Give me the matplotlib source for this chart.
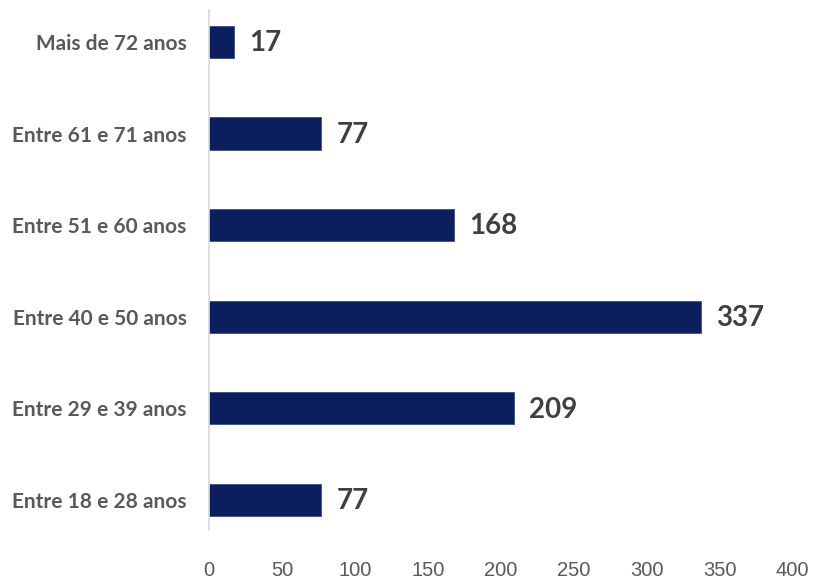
import matplotlib
matplotlib.use("Agg")
import matplotlib.pyplot as plt
from matplotlib import font_manager

categories = ["Entre 18 e 28 anos", "Entre 29 e 39 anos", "Entre 40 e 50 anos",
              "Entre 51 e 60 anos", "Entre 61 e 71 anos", "Mais de 72 anos"]
values = [77, 209, 337, 168, 77, 17]
xticks = [0, 50, 100, 150, 200, 250, 300, 350, 400]

names = {f.name for f in font_manager.fontManager.ttflist}
tick_font = "Liberation Sans Narrow" if "Liberation Sans Narrow" in names else "Liberation Sans"

fig = plt.figure(figsize=(8.13, 5.8), dpi=100)
ax = fig.add_axes([0.257, 0.086, 0.718, 0.897])

pos = list(range(len(categories)))
ax.barh(pos, values, height=0.35, color="#0B1F5E", edgecolor="#3A4F8A", linewidth=0.6)

for y, v in zip(pos, values):
    ax.annotate(str(v), (v, y), xytext=(11, -1), textcoords="offset points",
                va="center", ha="left", fontsize=20, fontweight="bold",
                color="#404040", family="Lato")

ax.set_xlim(0, 400)
ax.set_ylim(-0.33, 5.35)
ax.set_xticks(xticks)
ax.set_xticklabels([str(t) for t in xticks], family=tick_font, fontsize=14.5, color="#595959")
ax.set_yticks(pos)
ax.set_yticklabels(categories, family="Lato", fontweight="bold", fontsize=15, color="#595959")
ax.tick_params(length=0)
ax.tick_params(axis="x", pad=22)
ax.tick_params(axis="y", pad=16)

for s in ["top", "right", "bottom"]:
    ax.spines[s].set_visible(False)
ax.spines["left"].set_color("#D9D9D9")
ax.spines["left"].set_linewidth(1.2)

fig.savefig("out.png", dpi=100)
